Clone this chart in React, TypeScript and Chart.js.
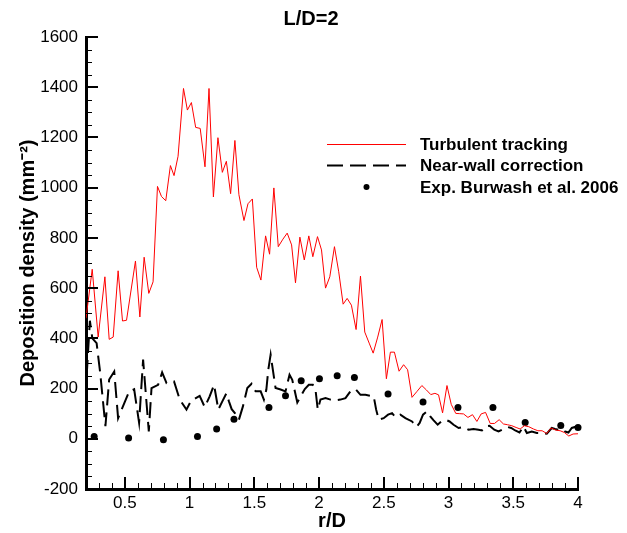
import { useEffect, useRef } from 'react';
import { Chart, registerables } from 'chart.js';
Chart.register(...registerables);

const FONT = '"Liberation Sans", Arial, Helvetica, sans-serif';

const chartTitle = 'L/D=2';
const xAxisTitle = 'r/D';
const yAxisTitle = 'Deposition density (mm⁻²)';
const legendLabels = ['Turbulent tracking', 'Near-wall correction', 'Exp. Burwash et al. 2006'];

const xRange = [0.2, 4];
const yRange = [-200, 1600];
const xTickValues = [0.5, 1, 1.5, 2, 2.5, 3, 3.5, 4];
const yTickValues = [-200, 0, 200, 400, 600, 800, 1000, 1200, 1400, 1600];
const xMinorStep = 0.1;
const yMinorStep = 50;

// Turbulent tracking (red line)
const turbX = [
  0.2, 0.248, 0.294, 0.346, 0.379, 0.41, 0.448, 0.482, 0.513, 0.582,
  0.616, 0.649, 0.685, 0.718, 0.752, 0.783, 0.816, 0.852, 0.88, 0.911,
  0.953, 0.983, 1.014, 1.047, 1.082, 1.119, 1.15, 1.184, 1.219, 1.253,
  1.284, 1.317, 1.35, 1.381, 1.42, 1.451, 1.485, 1.518, 1.551, 1.587,
  1.618, 1.651, 1.685, 1.721, 1.754, 1.788, 1.818, 1.852, 1.886, 1.921,
  1.952, 1.988, 2.019, 2.05, 2.083, 2.119, 2.152, 2.186, 2.217, 2.25,
  2.286, 2.32, 2.353, 2.387, 2.418, 2.453, 2.487, 2.52, 2.551, 2.582,
  2.618, 2.653, 2.684, 2.718, 2.757, 2.794, 2.828, 2.863, 2.895, 2.923,
  2.954, 2.988, 3.021, 3.056, 3.087, 3.116, 3.15, 3.185, 3.219, 3.252,
  3.286, 3.322, 3.355, 3.391, 3.424, 3.455, 3.489, 3.522, 3.553, 3.586,
  3.62, 3.656, 3.69, 3.723, 3.759, 3.792, 3.825, 3.862, 3.895, 3.929,
  3.962, 4.0,
];
const turbY = [
  480, 675, 405, 645, 396, 405, 669, 469, 472, 708,
  485, 723, 579, 625, 1005, 965, 948, 1088, 1048, 1125,
  1395, 1309, 1339, 1240, 1236, 1083, 1395, 963, 1199, 1061,
  1105, 976, 1188, 972, 869, 936, 955, 683, 632, 808,
  735, 999, 765, 795, 819, 772, 621, 803, 712, 808,
  725, 805, 752, 600, 645, 765, 665, 536, 559, 532,
  435, 648, 425, 381, 341, 405, 475, 239, 345, 345,
  269, 295, 275, 165, 189, 212, 195, 176, 181, 175,
  103, 212, 137, 101, 100, 99, 85, 96, 69, 99,
  105, 61, 61, 76, 59, 56, 52, 45, 39, 52,
  48, 39, 32, 32, 21, 43, 35, 32, 25, 11,
  19, 20,
];

// Near-wall correction (black dashed line)
const wallX = [
  0.205, 0.23, 0.249, 0.282, 0.31, 0.35, 0.379, 0.418, 0.448, 0.533,
  0.572, 0.61, 0.641, 0.685, 0.706, 0.757, 0.788, 0.822, 0.88, 0.924,
  0.976, 1.009, 1.048, 1.078, 1.117, 1.155, 1.189, 1.222, 1.253, 1.284,
  1.304, 1.325, 1.35, 1.381, 1.412, 1.446, 1.479, 1.51, 1.549, 1.574,
  1.593, 1.608, 1.626, 1.639, 1.664, 1.703, 1.741, 1.772, 1.793, 1.832,
  1.89, 1.921, 1.952, 1.972, 1.99, 2.011, 2.05, 2.088, 2.127, 2.165,
  2.204, 2.242, 2.281, 2.32, 2.358, 2.397, 2.422, 2.441, 2.461, 2.499,
  2.533, 2.564, 2.59, 2.628, 2.667, 2.718, 2.752, 2.777, 2.803, 2.834,
  2.859, 2.885, 2.916, 2.944, 2.975, 3.008, 3.039, 3.078, 3.116, 3.155,
  3.193, 3.232, 3.258, 3.283, 3.317, 3.353, 3.386, 3.424, 3.455, 3.484,
  3.515, 3.548, 3.579, 3.605, 3.643, 3.682, 3.72, 3.759, 3.797, 3.823,
  3.848, 3.874, 3.9, 3.926, 3.952, 3.977, 4.0,
];
const wallY = [
  250, 470, 400, 381, 261, 50, 236, 268, 82, 188,
  197, 64, 315, 29, 202, 215, 264, 222, 228, 156,
  116, 149, 162, 171, 126, 169, 215, 116, 149, 181,
  149, 118, 102, 76, 129, 202, 219, 189, 189, 156,
  196, 275, 335, 289, 202, 196, 189, 255, 235, 145,
  198, 215, 215, 198, 116, 156, 162, 156, 153, 156,
  162, 189, 198, 175, 175, 171, 169, 116, 76, 82,
  96, 102, 86, 96, 82, 69, 47, 63, 96, 109,
  89, 73, 56, 69, 76, 69, 56, 43, 47, 36,
  39, 36, 33, 49, 52, 36, 29, 39, 47, 43,
  33, 25, 49, 23, 29, 23, 23, 20, 43, 39,
  36, 39, 29, 25, 43, 47, 35,
];

// Exp. Burwash et al. 2006 (black dots)
const expX = [0.263, 0.529, 0.798, 1.061, 1.209, 1.343, 1.613, 1.741, 1.862, 2.003, 2.14, 2.273, 2.533, 2.803, 3.073, 3.343, 3.592, 3.867, 4.0];
const expY = [9, 3, -4, 9, 39, 78, 125, 171, 231, 239, 251, 244, 178, 146, 125, 125, 65, 53, 45];

const toPoints = (xs: number[], ys: number[]) => xs.map((x, i) => ({ x, y: ys[i] }));

const RED = '#ff0000';
const DASH = [16, 7];

export default function App() {
  const ref = useRef<HTMLCanvasElement>(null);

  useEffect(() => {
    const canvas = ref.current;
    if (!canvas) return;

    const decor = {
      id: 'decor',
      afterDraw(chart: any) {
        const { ctx, chartArea: a, scales } = chart;
        const xs = scales.x;
        const ys = scales.y;
        ctx.save();
        ctx.strokeStyle = '#000';
        ctx.setLineDash([]);
        // x ticks (inward)
        const nx = Math.round((xRange[1] - xRange[0]) / xMinorStep);
        for (let i = 1; i <= nx; i++) {
          const v = xRange[0] + i * xMinorStep;
          const major = xTickValues.some((t) => Math.abs(t - v) < 1e-6);
          const px = Math.round(xs.getPixelForValue(v));
          ctx.lineWidth = major ? 2 : 1;
          ctx.beginPath();
          ctx.moveTo(major ? px : px + 0.5, a.bottom);
          ctx.lineTo(major ? px : px + 0.5, a.bottom - (major ? 12 : 6));
          ctx.stroke();
        }
        // y ticks (inward)
        const ny = Math.round((yRange[1] - yRange[0]) / yMinorStep);
        for (let i = 1; i <= ny; i++) {
          const v = yRange[0] + i * yMinorStep;
          const major = yTickValues.includes(v);
          const py = Math.round(ys.getPixelForValue(v));
          ctx.lineWidth = major ? 2 : 1;
          ctx.beginPath();
          ctx.moveTo(a.left, major ? py : py + 0.5);
          ctx.lineTo(a.left + (major ? 12 : 6), major ? py : py + 0.5);
          ctx.stroke();
        }
        // title
        ctx.fillStyle = '#000';
        ctx.font = `bold 20px ${FONT}`;
        ctx.textAlign = 'center';
        ctx.textBaseline = 'middle';
        ctx.fillText(chartTitle, 311, 19);
        // legend
        const lx0 = 327, lx1 = 406, tx = 420;
        const rows = [144, 165.5, 187];
        ctx.font = `bold 17px ${FONT}`;
        ctx.textAlign = 'left';
        ctx.strokeStyle = RED;
        ctx.lineWidth = 1;
        ctx.beginPath();
        ctx.moveTo(lx0, rows[0] + 0.5);
        ctx.lineTo(lx1, rows[0] + 0.5);
        ctx.stroke();
        ctx.strokeStyle = '#000';
        ctx.lineWidth = 2;
        ctx.setLineDash(DASH);
        ctx.beginPath();
        ctx.moveTo(lx0, rows[1]);
        ctx.lineTo(lx1, rows[1]);
        ctx.stroke();
        ctx.setLineDash([]);
        ctx.beginPath();
        ctx.arc((lx0 + lx1) / 2, rows[2], 3, 0, Math.PI * 2);
        ctx.fill();
        legendLabels.forEach((t, i) => ctx.fillText(t, tx, rows[i] + 1));
        ctx.restore();
      },
    };

    const chart = new Chart(canvas, {
      type: 'scatter',
      data: {
        datasets: [
          {
            label: legendLabels[0],
            data: toPoints(turbX, turbY),
            showLine: true,
            borderColor: RED,
            borderWidth: 1,
            pointRadius: 0,
            tension: 0,
          },
          {
            label: legendLabels[1],
            data: toPoints(wallX, wallY),
            showLine: true,
            borderColor: '#000',
            borderWidth: 2,
            borderDash: DASH,
            pointRadius: 0,
            tension: 0,
          },
          {
            label: legendLabels[2],
            data: toPoints(expX, expY),
            showLine: false,
            pointRadius: 3.5,
            pointBackgroundColor: '#000',
            pointBorderWidth: 0,
            clip: false,
          },
        ],
      },
      options: {
        animation: false,
        responsive: true,
        maintainAspectRatio: false,
        layout: { padding: { left: 0, top: 37, right: 49, bottom: 0 } },
        plugins: {
          legend: { display: false },
          tooltip: { enabled: false },
          title: { display: false },
        },
        scales: {
          x: {
            type: 'linear',
            min: xRange[0],
            max: xRange[1],
            afterBuildTicks: (s: any) => {
              s.ticks = xTickValues.map((v) => ({ value: v }));
            },
            afterFit: (s: any) => {
              s.height = 44;
            },
            grid: { display: false, drawTicks: false },
            border: { display: true, width: 3, color: '#000' },
            ticks: {
              color: '#000',
              padding: 4,
              font: { family: FONT, size: 17 },
              maxRotation: 0,
              callback: (v: any) => String(v),
            },
            title: {
              display: true,
              text: xAxisTitle,
              color: '#000',
              font: { family: FONT, size: 20, weight: 'bold' },
              padding: { top: 0, bottom: 0 },
            },
          },
          y: {
            type: 'linear',
            min: yRange[0],
            max: yRange[1],
            afterBuildTicks: (s: any) => {
              s.ticks = yTickValues.map((v) => ({ value: v }));
            },
            afterFit: (s: any) => {
              s.width = 86;
            },
            grid: { display: false, drawTicks: false },
            border: { display: true, width: 3, color: '#000' },
            ticks: {
              color: '#000',
              padding: 8,
              font: { family: FONT, size: 17 },
              callback: (v: any) => String(v),
            },
            title: {
              display: true,
              text: yAxisTitle,
              color: '#000',
              font: { family: FONT, size: 20, weight: 'bold' },
              padding: { top: 16, bottom: 0 },
            },
          },
        },
      },
      plugins: [decor],
    });

    return () => chart.destroy();
  }, []);

  return (
    <div style={{ position: 'absolute', left: 0, top: 0, width: 627, height: 533, background: '#fff' }}>
      <canvas ref={ref} />
    </div>
  );
}
